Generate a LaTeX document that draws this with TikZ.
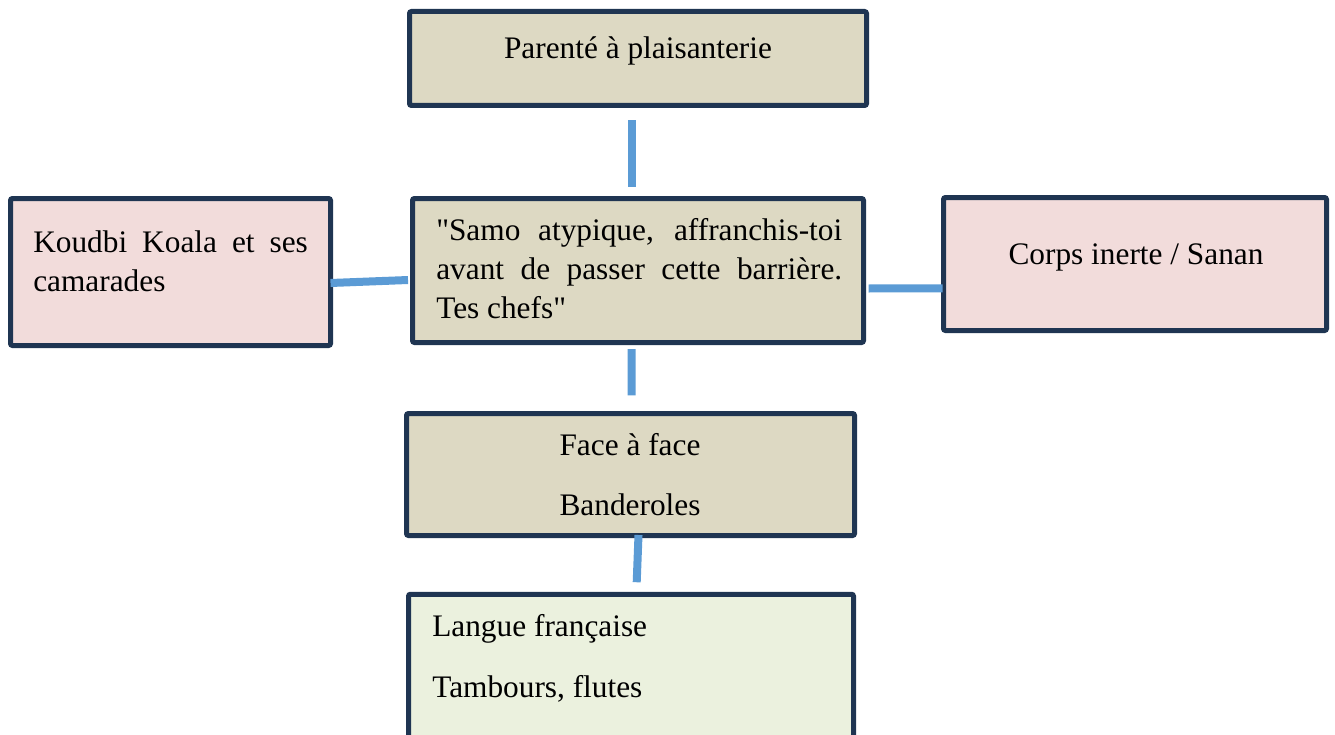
\documentclass[tikz,border=0pt]{standalone}
\usepackage{fontspec}
\setmainfont{Liberation Serif}[Ligatures=TeXOff]
\definecolor{boxline}{HTML}{1F3552}
\definecolor{tanfill}{HTML}{DDD9C3}
\definecolor{pinkfill}{HTML}{F2DCDB}
\definecolor{greenfill}{HTML}{EBF1DE}
\definecolor{conncol}{HTML}{5B9BD5}
\begin{document}
\begin{tikzpicture}[x=0.75pt,y=-0.75pt,
  box/.style={draw=boxline, line width=3.75pt, rounded corners=1.5pt, inner sep=0pt},
  lbl/.style={inner sep=0pt, font=\fontsize{23.5}{29}\selectfont, text=black},
  conn/.style={draw=conncol, line width=6pt, line cap=butt}]
\useasboundingbox (0,0) rectangle (1335,735);
% boxes
\node[box, fill=tanfill, minimum width=342.75pt, minimum height=70.5pt] (top) at (638,58.5) {};
\node[box, fill=pinkfill, minimum width=240pt, minimum height=110.25pt] (left) at (170.5,272) {};
\node[box, fill=tanfill, minimum width=338.25pt, minimum height=108pt] (mid) at (638,270.5) {};
\node[box, fill=pinkfill, minimum width=287.25pt, minimum height=99.75pt] (right) at (1135,264) {};
\node[box, fill=tanfill, minimum width=336pt, minimum height=91.5pt] (face) at (630.5,474.5) {};
\node[box, fill=greenfill, minimum width=333.75pt, minimum height=124.125pt] (bottom) at (631,677) {};
% texts
\node[lbl, anchor=base] (ttop) at (638,59) {Parenté à plaisanterie};
\node[lbl, anchor=base west] (tleft1) at (33,252) {\makebox[206pt][s]{Koudbi Koala et ses}};
\node[lbl, anchor=base west] (tleft2) at (33,291) {camarades};
\node[lbl, anchor=base west] (tmid1) at (436,240) {\makebox[304.5pt][s]{"Samo atypique, affranchis-toi}};
\node[lbl, anchor=base west] (tmid2) at (436,279) {\makebox[304.5pt][s]{avant de passer cette barrière.}};
\node[lbl, anchor=base west] (tmid3) at (436,318) {Tes chefs"};
\node[lbl, anchor=base] (tright) at (1136,264) {Corps inerte / Sanan};
\node[lbl, anchor=base] (tface1) at (630,455) {Face à face};
\node[lbl, anchor=base] (tface2) at (630,515.5) {Banderoles};
\node[lbl, anchor=base west] (tbot1) at (432,636.5) {Langue française};
\node[lbl, anchor=base west] (tbot2) at (432,697.5) {Tambours, flutes};
% connectors
\draw[conn] ([shift={(-6,12)}]top.south) -- ([shift={(-6,-9.5)}]mid.north);
\draw[conn] ([shift={(-2.5,11)}]left.east) -- ([shift={(-2,9.5)}]mid.west);
\draw[conn] ([shift={(2.5,18)}]mid.east) -- ([shift={(1.5,24.3)}]right.west);
\draw[conn] ([shift={(-6.3,4)}]mid.south) -- ([shift={(1.2,-15.7)}]face.north);
\draw[conn] ([shift={(8,-3)}]face.south) -- ([shift={(5.7,-9.5)}]bottom.north);
\end{tikzpicture}
\end{document}
